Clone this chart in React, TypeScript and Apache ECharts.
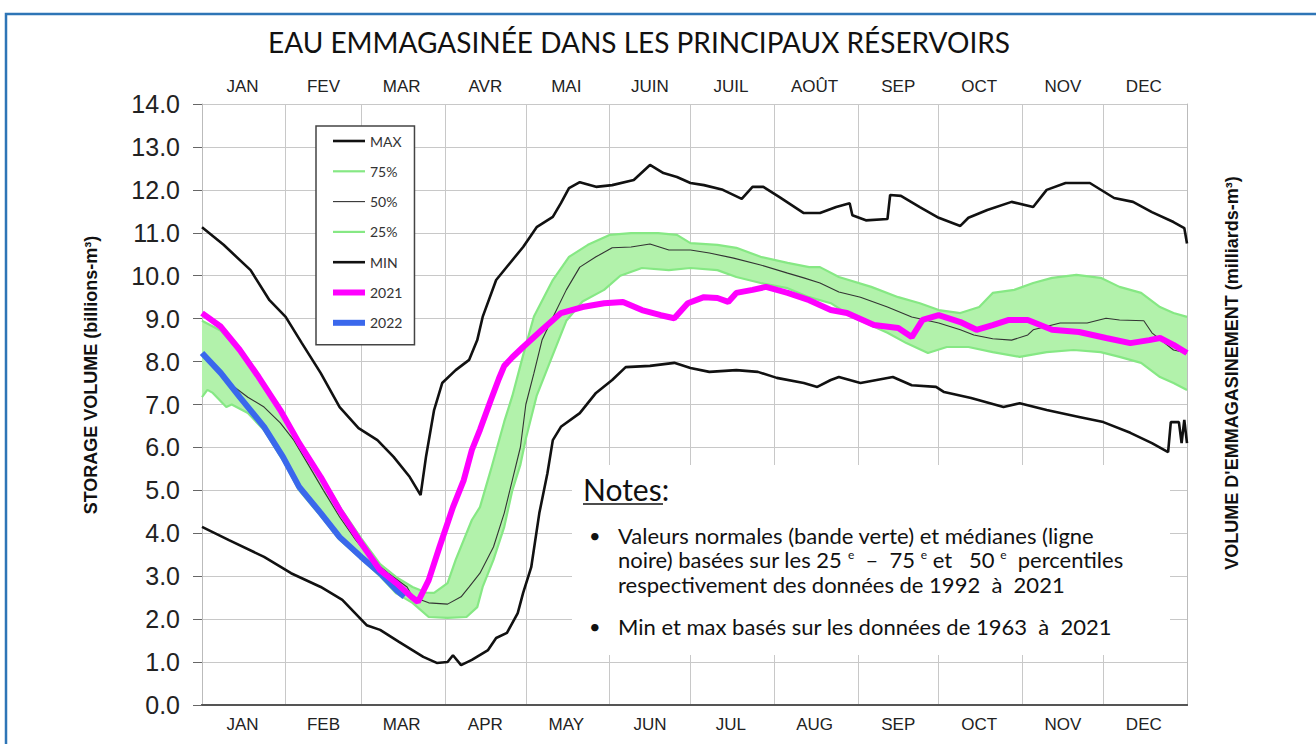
import React, { useEffect, useRef } from 'react';
import * as echarts from 'echarts';

// ---- axis categories / labels ----
const monthsFr = ['JAN', 'FEV', 'MAR', 'AVR', 'MAI', 'JUIN', 'JUIL', 'AOÛT', 'SEP', 'OCT', 'NOV', 'DEC'];
const monthsEn = ['JAN', 'FEB', 'MAR', 'APR', 'MAY', 'JUN', 'JUL', 'AUG', 'SEP', 'OCT', 'NOV', 'DEC'];
const monthStarts = [0, 31, 59, 90, 120, 151, 181, 212, 243, 273, 304, 334, 365];
const monthMids = [15, 45, 74, 105, 135, 166, 196, 227, 258, 288, 319, 349];
const dayCategories = Array.from({ length: 366 }, (_, i) => String(i));

// ---- series: [day of year, billions m3] ----
const maxData = [
  [0, 11.13], [8, 10.72], [18, 10.13], [25, 9.43], [31, 9.04], [37, 8.43], [44, 7.73], [51, 6.94],
  [58, 6.45], [65, 6.17], [71, 5.78], [77, 5.31], [81, 4.89], [83, 5.78], [86, 6.87], [89, 7.5],
  [94, 7.8], [99, 8.04], [102, 8.5], [104, 9.04], [109, 9.9], [119, 10.67], [124, 11.13], [130, 11.37],
  [133, 11.69], [136, 12.04], [140, 12.18], [146, 12.07], [152, 12.11], [160, 12.23], [166, 12.58],
  [171, 12.39], [176, 12.3], [181, 12.16], [186, 12.11], [193, 12.0], [200, 11.79], [204, 12.07],
  [208, 12.07], [214, 11.83], [223, 11.46], [229, 11.46], [235, 11.6], [240, 11.69], [241, 11.41],
  [246, 11.29], [254, 11.32], [255, 11.88], [259, 11.86], [266, 11.6], [273, 11.35], [281, 11.16],
  [284, 11.35], [291, 11.53], [300, 11.72], [308, 11.6], [313, 12.0], [320, 12.16], [329, 12.16],
  [338, 11.81], [345, 11.72], [352, 11.48], [360, 11.25], [364, 11.11], [365, 10.75],
];

const p75Data = [
  [0, 8.95], [7, 8.72], [14, 8.22], [21, 7.6], [29, 6.85], [36, 6.12], [44, 5.36], [51, 4.62],
  [59, 3.88], [66, 3.28], [72, 2.98], [78, 2.75], [83, 2.62], [86, 2.61], [91, 2.84], [94, 3.38],
  [100, 4.31], [103, 4.61], [107, 5.47], [112, 6.6], [115, 7.2], [119, 8.15], [123, 9.05], [130, 9.9],
  [136, 10.44], [143, 10.72], [151, 10.95], [159, 10.99], [169, 10.99], [176, 10.95], [181, 10.76],
  [191, 10.72], [198, 10.65], [207, 10.44], [217, 10.3], [225, 10.2], [229, 10.2], [236, 9.97],
  [248, 9.74], [258, 9.5], [266, 9.36], [273, 9.2], [281, 9.13], [288, 9.27], [293, 9.6], [301, 9.67],
  [308, 9.83], [315, 9.95], [324, 10.02], [333, 9.95], [340, 9.74], [348, 9.6], [355, 9.27],
  [360, 9.13], [365, 9.04],
];

const p50Data = [
  [0, 8.15], [10, 7.5], [17, 7.17], [23, 6.94], [29, 6.57], [34, 6.17], [39, 5.64], [45, 5.0],
  [51, 4.38], [57, 3.84], [63, 3.38], [69, 3.07], [76, 2.75], [78, 2.52], [84, 2.38], [91, 2.35],
  [96, 2.52], [99, 2.75], [103, 3.07], [108, 3.68], [112, 4.47], [115, 5.24], [118, 6.01], [120, 7.0],
  [123, 7.73], [126, 8.5], [129, 8.9], [135, 9.67], [140, 10.2], [146, 10.44], [152, 10.65],
  [159, 10.67], [166, 10.74], [173, 10.6], [181, 10.6], [188, 10.53], [197, 10.41], [207, 10.25],
  [217, 10.06], [223, 9.95], [229, 9.83], [236, 9.62], [244, 9.5], [254, 9.27], [263, 9.04],
  [273, 8.9], [281, 8.74], [286, 8.62], [293, 8.53], [300, 8.5], [306, 8.62], [308, 8.74],
  [318, 8.9], [328, 8.9], [335, 9.01], [340, 8.97], [349, 8.95], [352, 8.67], [360, 8.27], [365, 8.2],
];

const p25Data = [
  [0, 7.17], [2, 7.34], [4, 7.27], [9, 6.94], [11, 7.0], [17, 6.8], [23, 6.4], [30, 5.7], [36, 5.0],
  [44, 4.4], [51, 3.85], [59, 3.4], [66, 3.0], [72, 2.6], [78, 2.38], [84, 2.05], [91, 2.03],
  [98, 2.05], [102, 2.28], [104, 2.75], [108, 3.38], [112, 4.15], [115, 5.0], [118, 5.6], [120, 6.2],
  [124, 7.2], [129, 8.0], [135, 8.95], [141, 9.4], [149, 9.67], [155, 10.0], [163, 10.18],
  [173, 10.13], [181, 10.18], [191, 10.13], [198, 9.97], [207, 9.83], [217, 9.71], [225, 9.5],
  [233, 9.36], [241, 9.04], [254, 8.67], [261, 8.43], [269, 8.2], [276, 8.34], [284, 8.34],
  [293, 8.22], [303, 8.11], [313, 8.22], [323, 8.27], [333, 8.22], [340, 8.11], [348, 7.97],
  [355, 7.64], [360, 7.5], [365, 7.34],
];

const minData = [
  [0, 4.15], [10, 3.84], [23, 3.45], [33, 3.07], [44, 2.75], [52, 2.45], [61, 1.86], [66, 1.75],
  [73, 1.47], [82, 1.12], [87, 0.98], [91, 1.0], [93, 1.16], [96, 0.93], [100, 1.05], [106, 1.28],
  [109, 1.56], [113, 1.68], [117, 2.14], [119, 2.61], [122, 3.21], [125, 4.47], [128, 5.4],
  [130, 6.17], [133, 6.48], [140, 6.8], [146, 7.27], [152, 7.57], [157, 7.87], [166, 7.9],
  [175, 7.97], [181, 7.85], [188, 7.76], [198, 7.8], [206, 7.76], [213, 7.62], [223, 7.5],
  [228, 7.41], [233, 7.57], [236, 7.64], [244, 7.5], [256, 7.64], [263, 7.45], [272, 7.41],
  [275, 7.29], [285, 7.15], [297, 6.94], [303, 7.03], [313, 6.87], [325, 6.71], [334, 6.59],
  [344, 6.34], [352, 6.1], [358, 5.89], [359, 6.59], [362, 6.59], [363, 6.1], [364, 6.64], [365, 6.1],
];

const y2021Data = [
  [0, 9.13], [7, 8.81], [14, 8.27], [21, 7.64], [29, 6.87], [36, 6.1], [44, 5.31], [51, 4.54],
  [59, 3.77], [66, 3.14], [72, 2.84], [78, 2.5], [80, 2.4], [84, 2.91], [88, 3.68], [93, 4.61],
  [97, 5.24], [100, 5.94], [103, 6.41], [107, 7.1], [110, 7.6], [112, 7.9], [115, 8.1], [119, 8.34],
  [126, 8.74], [133, 9.13], [141, 9.27], [149, 9.36], [156, 9.39], [163, 9.2], [170, 9.08],
  [175, 9.01], [180, 9.36], [186, 9.5], [191, 9.48], [195, 9.39], [198, 9.6], [204, 9.67],
  [209, 9.74], [217, 9.6], [225, 9.43], [233, 9.2], [239, 9.13], [249, 8.85], [258, 8.78],
  [263, 8.57], [267, 8.97], [273, 9.08], [281, 8.92], [287, 8.74], [293, 8.85], [299, 8.97],
  [306, 8.97], [315, 8.74], [325, 8.69], [335, 8.55], [344, 8.43], [351, 8.5], [355, 8.55],
  [360, 8.39], [365, 8.2],
];

const y2022Data = [
  [0, 8.2], [7, 7.73], [14, 7.17], [23, 6.48], [30, 5.78], [36, 5.08], [44, 4.47], [51, 3.91],
  [59, 3.45], [66, 3.07], [72, 2.68], [75, 2.52],
];

const legendNames = ['MAX', '75%', '50%', '25%', 'MIN', '2021', '2022'];
const legendThickness = [2.6, 2.2, 1.1, 2.2, 2.6, 6, 6];

const noteLines = [
  'Valeurs normales (bande verte) et médianes (ligne',
  'noire) basées sur les 25 {sup|e}  –  75 {sup|e} et   50 {sup|e}  percentiles',
  'respectivement des données de 1992  à  2021',
];
const noteLine2 = 'Min et max basés sur les données de 1963  à  2021';

export default function App() {
  const ref = useRef<HTMLDivElement>(null);

  useEffect(() => {
    if (!ref.current) return;
    const chart = echarts.init(ref.current, undefined, { renderer: 'svg' });
    const frMap: Record<string, string> = {};
    const enMap: Record<string, string> = {};
    monthMids.forEach((d, i) => {
      frMap[String(d)] = monthsFr[i];
      enMap[String(d)] = monthsEn[i];
    });

    const lineBase = { type: 'line', symbol: 'none', showSymbol: false, smooth: false, silent: true };
    const noteFont = 'Lato';
    const noteSize = 22;
    const sup = { fontSize: 12, verticalAlign: 'top', fill: '#111', fontFamily: noteFont, padding: [0, 0, 8, 0] };
    const Z = 100;

    const option: any = {
      animation: false,
      backgroundColor: '#ffffff',
      grid: { left: 202, right: 129, top: 104, bottom: 39, containLabel: false },
      legend: {
        data: legendNames.map((n, i) => ({
          name: n,
          icon: `path://M0,0H32V${legendThickness[i]}H0Z`,
        })),
        orient: 'vertical',
        left: 316,
        top: 126,
        itemWidth: 32,
        itemHeight: 14,
        itemGap: 16.3,
        padding: [8, 12, 15, 17],
        backgroundColor: '#ffffff',
        borderColor: '#444',
        borderWidth: 1.5,
        borderRadius: 0,
        selectedMode: false,
        textStyle: { fontSize: 14, fontFamily: 'Lato', color: '#333' },
        z: 20,
      },
      xAxis: [
        {
          type: 'category',
          data: dayCategories,
          boundaryGap: false,
          position: 'bottom',
          axisLine: { show: true, lineStyle: { color: '#555', width: 2 } },
          axisTick: { show: false },
          axisLabel: {
            interval: (i: number) => monthMids.includes(i),
            formatter: (v: string) => enMap[v] || '',
            fontSize: 17,
            fontFamily: 'Liberation Sans',
            color: '#222',
            margin: 11,
          },
          splitLine: {
            show: true,
            interval: (i: number) => monthStarts.includes(i),
            lineStyle: { color: '#c8c8c8', width: 1 },
          },
        },
        {
          type: 'category',
          data: dayCategories,
          boundaryGap: false,
          position: 'top',
          axisLine: { show: true, lineStyle: { color: '#555', width: 2 } },
          axisTick: { show: false },
          axisLabel: {
            interval: (i: number) => monthMids.includes(i),
            formatter: (v: string) => frMap[v] || '',
            fontSize: 17,
            fontFamily: 'Liberation Sans',
            color: '#222',
            margin: 9,
          },
          splitLine: { show: false },
        },
      ],
      yAxis: [
        {
          type: 'value',
          min: 0,
          max: 14,
          interval: 1,
          position: 'left',
          axisLine: { show: true, lineStyle: { color: '#bbb', width: 1 } },
          axisTick: { show: true, length: 9, lineStyle: { color: '#666' } },
          axisLabel: {
            formatter: (v: number) => v.toFixed(1),
            fontSize: 25,
            fontFamily: 'Liberation Sans',
            color: '#222',
            margin: 22,
          },
          splitLine: { show: true, lineStyle: { color: '#c8c8c8', width: 1 } },
        },
        {
          type: 'value',
          min: 0,
          max: 14,
          interval: 1,
          position: 'right',
          axisLine: { show: true, lineStyle: { color: '#bbb', width: 1 } },
          axisTick: { show: false },
          axisLabel: { show: false },
          splitLine: { show: false },
        },
      ],
      series: [
        {
          type: 'custom',
          name: 'band',
          silent: true,
          z: 1,
          data: [[0, 0]],
          renderItem: (_params: any, api: any) => {
            const up = p75Data.map((p) => api.coord([p[0], p[1]]));
            const lo = p25Data.slice().reverse().map((p) => api.coord([p[0], p[1]]));
            return {
              type: 'polygon',
              shape: { points: up.concat(lo) },
              style: { fill: '#b2f2ab', stroke: 'none' },
            };
          },
        },
        { ...lineBase, name: '75%', data: p75Data, z: 2, color: '#86e884', lineStyle: { color: '#86e884', width: 2.2 } },
        { ...lineBase, name: '25%', data: p25Data, z: 2, color: '#86e884', lineStyle: { color: '#86e884', width: 2.2 } },
        { ...lineBase, name: '50%', data: p50Data, z: 3, color: '#333', lineStyle: { color: '#333', width: 1.1 } },
        { ...lineBase, name: 'MAX', data: maxData, z: 4, color: '#111', lineStyle: { color: '#111', width: 2.6 } },
        { ...lineBase, name: 'MIN', data: minData, z: 4, color: '#111', lineStyle: { color: '#111', width: 2.6 } },
        { ...lineBase, name: '2022', data: y2022Data, z: 5, color: '#3a68ec', lineStyle: { color: '#3a68ec', width: 6 } },
        { ...lineBase, name: '2021', data: y2021Data, z: 6, color: '#ff00ff', lineStyle: { color: '#ff00ff', width: 6 } },
      ],
      graphic: [
        {
          type: 'rect',
          shape: { x: 6, y: 14, width: 1400, height: 800 },
          style: { fill: 'none', stroke: '#2e75b6', lineWidth: 2.5 },
          silent: true,
          z: Z,
        },
        {
          type: 'text',
          x: 639,
          y: 42,
          z: Z,
          style: {
            text: 'EAU EMMAGASINÉE DANS LES PRINCIPAUX RÉSERVOIRS',
            fontSize: 28,
            fontFamily: 'Lato',
            fill: '#111',
            textAlign: 'center',
            verticalAlign: 'middle',
          },
        },
        {
          type: 'text',
          x: 91,
          y: 375,
          z: Z,
          rotation: Math.PI / 2,
          style: {
            text: 'STORAGE VOLUME (billions-m³)',
            fontSize: 18,
            fontWeight: 'bold',
            fontFamily: 'Liberation Sans',
            fill: '#111',
            textAlign: 'center',
            verticalAlign: 'middle',
          },
        },
        {
          type: 'text',
          x: 1232,
          y: 373,
          z: Z,
          rotation: Math.PI / 2,
          style: {
            text: "VOLUME D'EMMAGASINEMENT (milliards-m³)",
            fontSize: 18,
            fontWeight: 'bold',
            fontFamily: 'Liberation Sans',
            fill: '#111',
            textAlign: 'center',
            verticalAlign: 'middle',
          },
        },
        { type: 'rect', z: Z, shape: { x: 572, y: 465, width: 598, height: 190 }, style: { fill: '#ffffff' } },
        {
          type: 'text', z: Z + 1, x: 583, y: 489,
          style: { text: 'Notes:', fontSize: 30, fontFamily: noteFont, fill: '#111', verticalAlign: 'middle' },
        },
        { type: 'line', z: Z + 1, shape: { x1: 583, y1: 504, x2: 663, y2: 504 }, style: { stroke: '#111', lineWidth: 1.5 } },
        { type: 'text', z: Z + 1, x: 589, y: 535, style: { text: '•', fontSize: 20, fontFamily: noteFont, fill: '#111', verticalAlign: 'middle' } },
        { type: 'text', z: Z + 1, x: 589, y: 626, style: { text: '•', fontSize: 20, fontFamily: noteFont, fill: '#111', verticalAlign: 'middle' } },
        ...noteLines.map((t, i) => ({
          type: 'text',
          z: Z + 1,
          x: 618,
          y: 535 + i * 24.5,
          style: { text: t, fontSize: noteSize, fontFamily: noteFont, fill: '#111', verticalAlign: 'middle', rich: { sup } },
        })),
        {
          type: 'text', z: Z + 1, x: 618, y: 626,
          style: { text: noteLine2, fontSize: noteSize, fontFamily: noteFont, fill: '#111', verticalAlign: 'middle' },
        },
      ],
    };

    chart.setOption(option);
    return () => chart.dispose();
  }, []);

  return (
    <div
      ref={ref}
      style={{ position: 'absolute', left: 0, top: 0, width: 1316, height: 744, background: '#fff' }}
    />
  );
}
